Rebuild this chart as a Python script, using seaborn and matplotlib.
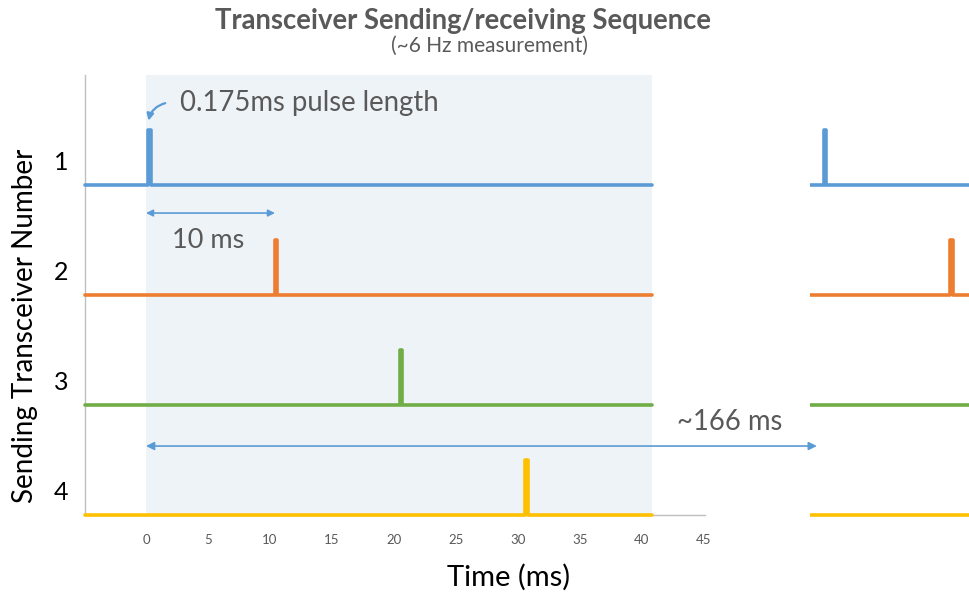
import numpy as np
import pandas as pd
import matplotlib
matplotlib.use("Agg")
import matplotlib.pyplot as plt
import seaborn as sns

# ---- data ----
transceivers = ["1", "2", "3", "4"]
pulse_start_ms = [0.2, 10.4, 20.5, 30.6]
baseline = [3, 2, 1, 0]
pulse_width_ms = 0.175
pulse_height = 0.5
period_ms = 166
window_end_ms = 40.8
x_ticks = [0, 5, 10, 15, 20, 25, 30, 35, 40, 45]
colors = ["#5B9BD5", "#ED7D31", "#70AD47", "#FFC000"]

def traces(offset, x_lo, x_hi):
    rows = []
    for t, p, b in zip(transceivers, pulse_start_ms, baseline):
        p = p + offset
        xs = [x_lo, p, p, p + pulse_width_ms, p + pulse_width_ms, x_hi]
        ys = [b, b, b + pulse_height, b + pulse_height, b, b]
        for i, (x, y) in enumerate(zip(xs, ys)):
            rows.append({"t": t, "order": i, "time": x, "level": y})
    return pd.DataFrame(rows)

sns.set_theme(style="white")
plt.rcParams["font.family"] = ["Lato", "DejaVu Sans"]

fig = plt.figure(figsize=(9.69, 5.97), dpi=100)
W, H = 969, 597
def px_axes(l, r, t, b):
    return [l / W, 1 - b / H, (r - l) / W, (b - t) / H]

x0 = -4.92
x1 = 45.08
ax = fig.add_axes(px_axes(85, 705, 75, 515))
# right panel extends a bit lower so the bottom trace is not clipped
ax2 = fig.add_axes(px_axes(810, 969, 75, 526))

pal = dict(zip(transceivers, colors))
df_main = traces(0, x0, window_end_ms)
sns.lineplot(data=df_main, x="time", y="level", hue="t", units="t", estimator=None,
             sort=False, palette=pal, lw=2.6, legend=False, ax=ax, zorder=3)
for ln in ax.get_lines():
    ln.set_clip_on(False)
df_right = traces(period_ms, 150, 200)
sns.lineplot(data=df_right, x="time", y="level", hue="t", units="t", estimator=None,
             sort=False, palette=pal, lw=2.6, legend=False, ax=ax2, zorder=3)

ax.set_xlim(x0, x1)
ax.set_ylim(0, 4)
ax.axvspan(0, window_end_ms, color="#EEF3F8", zorder=0, lw=0)
ax.set_xticks(x_ticks)
ax.set_xticklabels([str(v) for v in x_ticks], color="#595959", fontsize=9.5)
ax.set_yticks([b + 0.22 for b in baseline])
ax.set_yticklabels(transceivers, fontsize=18, color="black")
ax.tick_params(axis="x", length=0, pad=14)
ax.tick_params(axis="y", length=0, pad=12)
ax.set_xlabel("")
ax.set_ylabel("")
for s in ["top", "right"]:
    ax.spines[s].set_visible(False)
for s in ["left", "bottom"]:
    ax.spines[s].set_color("#BFBFBF")
    ax.spines[s].set_linewidth(1.0)
    ax.spines[s].set_zorder(1)

lo2 = period_ms + 0.2 - (824 - 810) / 12.4
ax2.set_xlim(lo2, lo2 + 159 / 12.4)
ax2.set_ylim(-0.1, 4)
ax2.axis("off")

gray = "#595959"
blue = "#5B9BD5"
# annotations
ax.text(2.74, 3.745, "0.175ms pulse length", fontsize=19.8, color=gray, va="center", ha="left")
ax.annotate("", xy=(0.16, 3.56), xytext=(1.77, 3.75),
            arrowprops=dict(arrowstyle="-|>", color=blue, lw=1.6,
                            connectionstyle="arc3,rad=0.35", mutation_scale=10))
ax.annotate("", xy=(0, 2.745), xytext=(10.4, 2.745),
            arrowprops=dict(arrowstyle="<|-|>", color=blue, lw=1.2, mutation_scale=10,
                            shrinkA=0, shrinkB=0))
ax.text(2.1, 2.5, "10 ms", fontsize=19.5, color=gray, va="center", ha="left")
ax.annotate("", xy=(0, 0.627), xytext=(54.1, 0.627), annotation_clip=False,
            arrowprops=dict(arrowstyle="<|-|>", color=blue, lw=1.2, mutation_scale=12,
                            shrinkA=0, shrinkB=0))
ax.text(42.8, 0.85, "~166 ms", fontsize=19.8, color=gray, va="center", ha="left")

fig.text(463 / W, 1 - 21 / H, "Transceiver Sending/receiving Sequence", fontsize=19.8,
         fontweight="bold", color=gray, ha="center", va="center")
fig.text(489 / W, 1 - 46 / H, "(~6 Hz measurement)", fontsize=15, color=gray,
         ha="center", va="center")
fig.text(509 / W, 1 - 577 / H, "Time (ms)", fontsize=21, color="black", ha="center", va="center")
fig.text(25 / W, 1 - 326 / H, "Sending Transceiver Number", fontsize=20, color="black",
         ha="center", va="center", rotation=90)

fig.savefig("out.png", dpi=100)
